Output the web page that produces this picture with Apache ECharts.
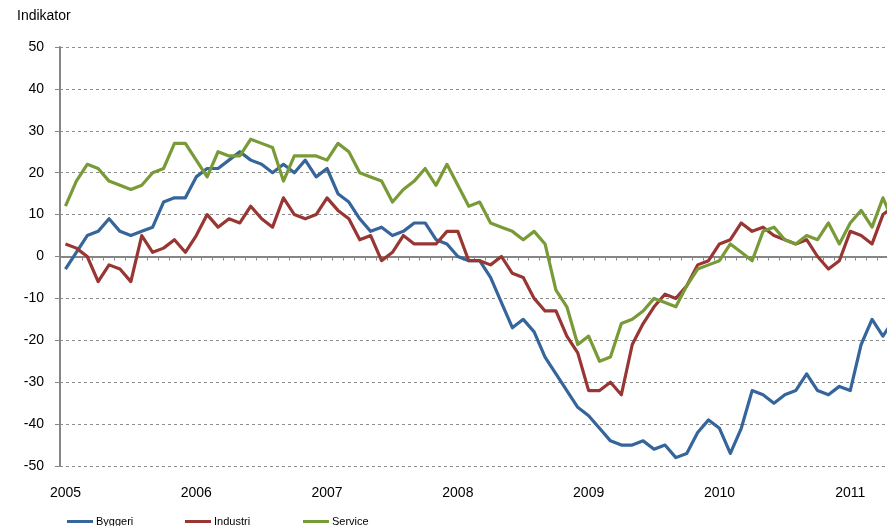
<!DOCTYPE html>
<html>
<head>
<meta charset="utf-8">
<script src="https://cdn.jsdelivr.net/npm/echarts@6/dist/echarts.min.js"></script>
<style>
html,body{margin:0;padding:0;background:#fff;}
#chart{width:887px;height:526px;}
</style>
</head>
<body>
<div id="chart"></div>
<script>
// Monthly categories Jan 2005 .. May 2011
var startYear = 2005;
var nMonths = 77;
var months = [];
for (var i = 0; i < nMonths; i++) {
  var y = startYear + Math.floor(i / 12);
  var m = (i % 12) + 1;
  months.push(y + '-' + (m < 10 ? '0' + m : m));
}

var byggeri = [-3, 1, 5, 6, 9, 6, 5, 6, 7, 13, 14, 14,
  19, 21, 21, 23, 25, 23, 22, 20, 22, 20, 23, 19,
  21, 15, 13, 9, 6, 7, 5, 6, 8, 8, 4, 3,
  0, -1, -1, -5, -11, -17, -15, -18, -24, -28, -32, -36,
  -38, -41, -44, -45, -45, -44, -46, -45, -48, -47, -42, -39,
  -41, -47, -41, -32, -33, -35, -33, -32, -28, -32, -33, -31,
  -32, -21, -15, -19, -15];

var industri = [3, 2, 0, -6, -2, -3, -6, 5, 1, 2, 4, 1,
  5, 10, 7, 9, 8, 12, 9, 7, 14, 10, 9, 10,
  14, 11, 9, 4, 5, -1, 1, 5, 3, 3, 3, 6,
  6, -1, -1, -2, 0, -4, -5, -10, -13, -13, -19, -23,
  -32, -32, -30, -33, -21, -16, -12, -9, -10, -7, -2, -1,
  3, 4, 8, 6, 7, 5, 4, 3, 4, 0, -3, -1,
  6, 5, 3, 10, 12];

var service = [12, 18, 22, 21, 18, 17, 16, 17, 20, 21, 27, 27,
  23, 19, 25, 24, 24, 28, 27, 26, 18, 24, 24, 24,
  23, 27, 25, 20, 19, 18, 13, 16, 18, 21, 17, 22,
  17, 12, 13, 8, 7, 6, 4, 6, 3, -8, -12, -21,
  -19, -25, -24, -16, -15, -13, -10, -11, -12, -7, -3, -2,
  -1, 3, 1, -1, 6, 7, 4, 3, 5, 4, 8, 3,
  8, 11, 7, 14, 8];

var seriesNames = ['Byggeri', 'Industri', 'Service'];
var seriesColors = ['#35659A', '#983634', '#789A37'];
var yTicks = [-50, -40, -30, -20, -10, 0, 10, 20, 30, 40, 50];

var FONT = "'Liberation Sans', Arial, sans-serif";
var chart = echarts.init(document.getElementById('chart'), null, {renderer: 'canvas'});

function legendFor(idx, left) {
  return {
    data: [seriesNames[idx]],
    left: left, top: 516, padding: 0,
    icon: 'rect', itemWidth: 26, itemHeight: 3, itemGap: 0,
    textStyle: {fontFamily: FONT, fontSize: 11, color: '#000', padding: [9, 0, 0, -2]},
    selectedMode: false
  };
}

var option = {
  animation: false,
  backgroundColor: '#fff',
  title: {
    text: 'Indikator', left: 17, top: 9, padding: 0,
    textStyle: {fontFamily: FONT, fontSize: 14, fontWeight: 'normal', color: '#000'}
  },
  legend: [legendFor(0, 67), legendFor(1, 185), legendFor(2, 303)],
  grid: {left: 60, top: 47, width: nMonths * 10.9, height: 419, containLabel: false, outerBoundsMode: 'none'},
  xAxis: [{
    type: 'category', data: months, boundaryGap: true, position: 'bottom',
    axisLine: {show: true, onZero: true, lineStyle: {color: '#868686', width: 2}},
    axisTick: {show: true, interval: 0, length: 4, inside: false, lineStyle: {color: '#868686', width: 1}},
    axisLabel: {show: false},
    splitLine: {show: false}
  }, {
    type: 'category', data: months, boundaryGap: true, position: 'bottom',
    axisLine: {show: false, onZero: false},
    axisTick: {show: false},
    axisLabel: {
      show: true, interval: 11, margin: 20,
      fontFamily: FONT, fontSize: 14, color: '#000',
      formatter: function (v) { return v.slice(0, 4); }
    },
    splitLine: {show: false}
  }],
  yAxis: {
    type: 'value', min: yTicks[0], max: yTicks[yTicks.length - 1], interval: 10,
    axisLine: {show: true, onZero: false, lineStyle: {color: '#868686', width: 2}},
    axisTick: {show: true, length: 5, lineStyle: {color: '#868686', width: 1}},
    axisLabel: {margin: 16, fontFamily: FONT, fontSize: 14, color: '#000'},
    splitLine: {show: true, lineStyle: {color: '#8c8c8c', width: 1, type: [3, 3]}}
  },
  series: seriesNames.map(function (name, k) {
    return {
      name: name, type: 'line', xAxisIndex: 0,
      data: [byggeri, industri, service][k],
      symbol: 'none', smooth: false,
      lineStyle: {color: seriesColors[k], width: 3.2, join: 'round'},
      itemStyle: {color: seriesColors[k]},
      z: [2, 3, 4][k]
    };
  })
};
chart.setOption(option);
</script>
</body>
</html>
